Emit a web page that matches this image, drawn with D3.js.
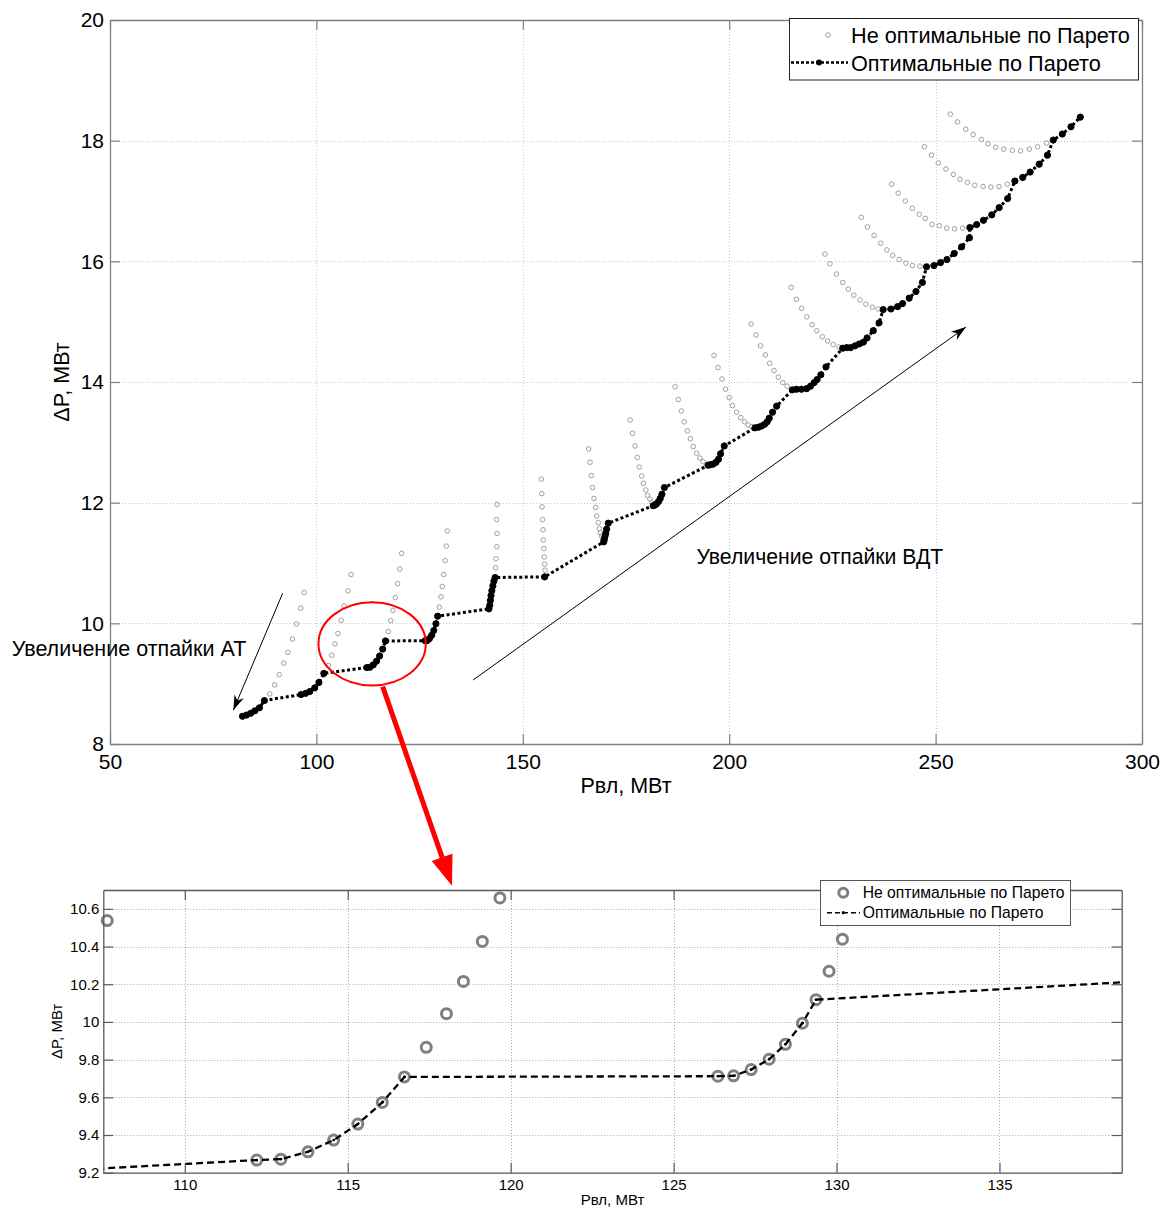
<!DOCTYPE html>
<html>
<head>
<meta charset="utf-8">
<script src="https://cdn.jsdelivr.net/npm/d3@7"></script>
<style>
    body { margin: 0; background: #fff; }
    svg { display: block; font-family: "Liberation Sans", Arial, sans-serif; }
</style>
</head>
<body>
<div id="plot"></div>
<script>
// Pareto-optimal points [Рвл, ΔP], in MW, group by group (left to right).
const pareto_points = [
    [82.1, 8.46], [83.1, 8.48], [84.1, 8.51], [85.1, 8.55], [86.2, 8.60], [87.4, 8.72],
    [96.3, 8.82], [97.4, 8.84], [98.4, 8.87], [99.6, 8.93], [100.6, 9.02], [101.8, 9.17],
    [112.21, 9.267], [112.95, 9.272], [113.78, 9.311], [114.57, 9.373], [115.31, 9.458], [116.06, 9.573], [116.74, 9.708],
    [126.36, 9.712], [126.84, 9.714], [127.38, 9.747], [127.93, 9.802], [128.43, 9.881], [128.95, 9.993], [129.37, 10.118],
    [141.8, 10.24], [142.0, 10.30], [142.15, 10.38], [142.3, 10.46], [142.5, 10.54], [142.75, 10.62], [143.0, 10.70], [143.3, 10.76],
    [155.3, 10.77],
    [169.6, 11.35], [169.75, 11.39], [169.9, 11.44], [170.1, 11.49], [170.3, 11.56], [170.7, 11.66],
    [181.6, 11.95], [182.0, 11.96], [182.4, 11.98], [182.9, 12.02], [183.3, 12.07], [183.7, 12.14], [184.3, 12.25],
    [194.9, 12.62], [195.5, 12.63], [196.15, 12.64], [196.8, 12.67], [197.4, 12.72], [197.9, 12.81], [198.8, 12.94],
    [206.25, 13.24], [207.05, 13.25], [207.85, 13.27], [208.6, 13.30], [209.2, 13.34], [209.7, 13.40], [210.5, 13.50], [211.5, 13.60],
    [215.3, 13.87], [216.3, 13.88], [217.5, 13.88], [218.75, 13.89], [219.7, 13.93], [220.6, 13.99], [221.3, 14.04], [222.2, 14.12], [223.45, 14.25],
    [227.5, 14.56], [228.45, 14.57], [229.4, 14.57], [230.5, 14.60], [231.5, 14.63], [232.5, 14.66], [233.4, 14.73], [234.9, 14.85], [236.3, 14.98],
    [237.3, 15.20], [239.2, 15.21], [240.8, 15.25], [242.0, 15.30], [243.6, 15.39], [245.25, 15.50], [246.8, 15.65],
    [247.8, 15.91], [249.6, 15.93], [251.2, 15.98], [252.75, 16.03], [254.5, 16.13], [256.3, 16.24], [258.2, 16.39],
    [258.3, 16.56], [259.95, 16.61], [261.6, 16.68], [263.6, 16.77], [265.4, 16.89], [267.45, 17.04],
    [269.2, 17.33], [271.1, 17.39], [272.9, 17.48], [275.1, 17.61], [277.1, 17.76],
    [278.5, 18.01], [280.7, 18.11], [282.8, 18.23], [285.05, 18.39]
];

// Non-optimal points [Рвл, ΔP], one row per tap group.
const other_points = [
    [88.7, 8.83], [89.9, 8.98], [91.0, 9.15], [92.1, 9.34], [93.1, 9.52], [94.2, 9.74], [95.2, 9.99], [96.2, 10.25], [97.05, 10.51],
    [102.9, 9.30], [103.7, 9.47], [104.5, 9.66], [105.2, 9.83], [106.0, 10.05], [106.7, 10.29], [107.62, 10.538], [108.4, 10.81],
    [117.41, 9.865], [118.03, 10.044], [118.55, 10.215], [119.13, 10.427], [119.67, 10.658], [120.2, 10.90], [120.64, 11.16],
    [129.77, 10.269], [130.18, 10.439], [130.5, 10.61], [130.85, 10.81], [131.2, 11.04], [131.45, 11.28], [131.7, 11.53],
    [143.4, 10.92], [143.5, 11.07], [143.7, 11.27], [143.75, 11.49], [143.65, 11.72], [143.75, 11.97],
    [155.4, 10.88], [155.3, 10.98], [155.2, 11.10], [155.1, 11.24], [154.95, 11.38], [154.9, 11.55], [154.8, 11.72], [154.65, 11.93], [154.6, 12.15], [154.5, 12.39],
    [169.3, 11.40], [169.1, 11.45], [168.8, 11.50], [168.55, 11.57], [168.3, 11.67], [167.9, 11.78], [167.65, 11.92], [167.25, 12.07], [166.9, 12.25], [166.6, 12.45], [166.3, 12.67], [165.95, 12.89],
    [181.2, 12.00], [180.8, 12.06], [180.2, 12.12], [179.8, 12.21], [179.2, 12.32], [178.8, 12.44], [178.2, 12.59], [177.75, 12.75], [177.2, 12.94], [176.6, 13.15], [176.0, 13.37],
    [194.5, 12.64], [193.7, 12.68], [192.9, 12.74], [192.1, 12.82], [191.3, 12.93], [190.6, 13.06], [189.85, 13.19], [189.1, 13.34], [188.4, 13.52], [187.65, 13.71], [186.9, 13.92],
    [205.5, 13.26], [204.6, 13.29], [203.75, 13.34], [202.8, 13.41], [201.8, 13.50], [200.8, 13.61], [200.0, 13.74], [199.1, 13.88], [198.25, 14.05], [197.3, 14.24], [196.3, 14.44],
    [214.05, 13.93], [213.0, 13.99], [211.9, 14.08], [210.85, 14.19], [209.8, 14.31], [208.75, 14.45], [207.6, 14.60], [206.5, 14.78], [205.3, 14.96],
    [226.6, 14.58], [225.2, 14.62], [223.85, 14.68], [222.55, 14.75], [221.2, 14.85], [220.1, 14.95], [218.8, 15.08], [217.55, 15.22], [216.3, 15.37], [215.0, 15.57],
    [236.1, 15.21], [234.7, 15.24], [233.1, 15.29], [231.7, 15.36], [230.2, 15.44], [228.85, 15.54], [227.5, 15.65], [226.0, 15.79], [224.4, 15.96], [223.2, 16.12],
    [246.2, 15.92], [244.4, 15.93], [242.8, 15.97], [241.2, 16.03], [239.6, 16.10], [238.2, 16.19], [236.7, 16.30], [235.1, 16.43], [233.5, 16.57], [232.0, 16.73],
    [256.55, 16.55], [254.6, 16.54], [252.7, 16.55], [250.9, 16.59], [249.1, 16.61], [247.5, 16.71], [246.05, 16.78], [244.35, 16.88], [242.65, 17.00], [240.95, 17.13], [239.35, 17.28],
    [267.35, 17.28], [265.35, 17.24], [263.4, 17.23], [261.5, 17.24], [259.5, 17.26], [257.7, 17.31], [255.9, 17.36], [254.3, 17.44], [252.5, 17.53], [250.65, 17.63], [249.0, 17.76], [247.3, 17.90],
    [276.9, 17.96], [274.7, 17.90], [272.7, 17.86], [270.6, 17.83], [268.6, 17.84], [266.5, 17.86], [264.55, 17.89], [262.7, 17.95], [261.1, 18.02], [259.1, 18.10], [257.3, 18.19], [255.3, 18.31], [253.55, 18.44]
];

// Axis ticks and limits.
const main_x_ticks = [50, 100, 150, 200, 250, 300];
const main_y_ticks = [8, 10, 12, 14, 16, 18, 20];
const zoom_x_ticks = [110, 115, 120, 125, 130, 135];
const zoom_y_ticks = [9.2, 9.4, 9.6, 9.8, 10, 10.2, 10.4, 10.6];
const zoom_x_limits = [107.5, 138.75];
const zoom_y_limits = [9.2, 10.7];

// Texts.
const x_label = "Рвл, МВт";
const y_label = "ΔP, МВт";
const legend_labels = ["Не оптимальные по Парето", "Оптимальные по Парето"];
const note_at = "Увеличение отпайки АТ";
const note_vdt = "Увеличение отпайки ВДТ";

// Annotation anchors in data units of the main plot: [from, to].
const arrow_at = [[91.84, 10.5], [79.87, 8.56]];
const arrow_vdt = [[137.94, 9.06], [257.36, 14.91]];
const note_at_pos = [26.2, 9.46];
const note_vdt_pos = [192.1, 10.98];
const zoom_ellipse = { cx: 113.5, cy: 9.66, rx: 13.0, ry: 0.69 };
// Red arrow starts in main plot units and ends in zoom plot units.
const red_arrow_from = [116.06, 8.95];
const red_arrow_to = [118.2, 10.723];


// Creating the SVG tag.
const width = 1163, height = 1209;
const svg = d3.select("div#plot").append("svg")
    .attr("width", width)
    .attr("height", height);

svg.append("rect").attr("width", width).attr("height", height).attr("fill", "#fff");

// Draws the grid and the boxed axes of one panel, returns its scales.
function make_panel(o) {
    const x = d3.scaleLinear().domain(o.x_domain).range([o.left, o.right]);
    const y = d3.scaleLinear().domain(o.y_domain).range([o.bottom, o.top]);

    const g = svg.append("g").attr("id", o.id);

    svg.append("clipPath").attr("id", o.id + "_clip")
        .append("rect")
        .attr("x", o.left).attr("y", o.top)
        .attr("width", o.right - o.left).attr("height", o.bottom - o.top);

    // Dotted grid.
    const grid = g.append("g").attr("class", "grid")
        .attr("stroke", o.grid_color)
        .attr("stroke-width", 1)
        .attr("stroke-dasharray", "1,2");

    grid.selectAll("line.gx").data(o.x_ticks).join("line")
        .attr("class", "gx")
        .attr("x1", d => Math.round(x(d)) + 0.5).attr("x2", d => Math.round(x(d)) + 0.5)
        .attr("y1", o.top).attr("y2", o.bottom);

    grid.selectAll("line.gy").data(o.y_ticks).join("line")
        .attr("class", "gy")
        .attr("y1", d => Math.round(y(d)) + 0.5).attr("y2", d => Math.round(y(d)) + 0.5)
        .attr("x1", o.left).attr("x2", o.right);

    const layers = {
        data: g.append("g").attr("class", "data"),
        axes: g.append("g").attr("class", "axes")
    };

    const style_axis = (a, labels) => {
        a.attr("font-family", null).attr("font-size", o.tick_font);
        a.select(".domain").attr("stroke", o.axis_color).attr("stroke-width", 1.3);
        a.selectAll(".tick line").attr("stroke", o.axis_color).attr("stroke-width", 1.2);
        a.selectAll(".tick text").attr("fill", "#000");
        if (!labels) a.selectAll(".tick text").remove();
    };

    layers.axes.append("g")
        .attr("transform", "translate(0," + o.bottom + ")")
        .call(d3.axisBottom(x).tickValues(o.x_ticks).tickSizeInner(-o.tick_len)
            .tickSizeOuter(0).tickPadding(o.x_pad).tickFormat(d => d))
        .call(a => style_axis(a, true));

    layers.axes.append("g")
        .attr("transform", "translate(" + o.left + ",0)")
        .call(d3.axisLeft(y).tickValues(o.y_ticks).tickSizeInner(-o.tick_len)
            .tickSizeOuter(0).tickPadding(o.y_pad).tickFormat(d => d))
        .call(a => style_axis(a, true));

    layers.axes.append("g")
        .attr("transform", "translate(0," + o.top + ")")
        .call(d3.axisTop(x).tickValues(o.x_ticks).tickSizeInner(-o.tick_len).tickSizeOuter(0))
        .call(a => style_axis(a, false));

    layers.axes.append("g")
        .attr("transform", "translate(" + o.right + ",0)")
        .call(d3.axisRight(y).tickValues(o.y_ticks).tickSizeInner(-o.tick_len).tickSizeOuter(0))
        .call(a => style_axis(a, false));

    // Axis labels.
    g.append("text")
        .attr("x", (o.left + o.right) / 2).attr("y", o.x_label_y)
        .attr("text-anchor", "middle").attr("font-size", o.label_font)
        .text(x_label);

    g.append("text")
        .attr("transform", "translate(" + o.y_label_x + "," + (o.top + o.bottom) / 2 + ") rotate(-90)")
        .attr("text-anchor", "middle").attr("font-size", o.label_font)
        .text(y_label);

    return { x, y, g, layers, clip: "url(#" + o.id + "_clip)" };
}

// Arrow head polygon with a notched back, tip at "to".
function arrow_head(from, to, len, half, notch) {
    const dx = to[0] - from[0], dy = to[1] - from[1];
    const l = Math.hypot(dx, dy), ux = dx / l, uy = dy / l;
    const bx = to[0] - ux * len, by = to[1] - uy * len;
    const nx = to[0] - ux * len * notch, ny = to[1] - uy * len * notch;
    return [to, [bx - uy * half, by + ux * half], [nx, ny], [bx + uy * half, by - ux * half]]
        .map(p => p.join(",")).join(" ");
}


/* -------------------------------------------------------------------------
 * Main plot
 * ---------------------------------------------------------------------- */

const main = make_panel({
    id: "main", left: 110, right: 1142, top: 20, bottom: 744,
    x_domain: [50, 300], y_domain: [8, 20],
    x_ticks: main_x_ticks, y_ticks: main_y_ticks,
    grid_color: "#c8c8c8", axis_color: "#808080",
    tick_len: 10, tick_font: 21, label_font: 21.5,
    x_pad: 10.5, y_pad: 6, x_label_y: 793, y_label_x: 69
});

main.layers.data.selectAll("circle.other")
    .data(other_points)
    .join("circle")
        .attr("class", "other")
        .attr("cx", d => main.x(d[0]))
        .attr("cy", d => main.y(d[1]))
        .attr("r", 2.3)
        .attr("fill", "none")
        .attr("stroke", "#a0a0a0")
        .attr("stroke-width", 1);

main.layers.data.append("path")
    .datum(pareto_points)
    .attr("d", d3.line().x(d => main.x(d[0])).y(d => main.y(d[1])))
    .attr("fill", "none")
    .attr("stroke", "#000")
    .attr("stroke-width", 3)
    .attr("stroke-dasharray", "3,2.5");

main.layers.data.selectAll("circle.pareto")
    .data(pareto_points)
    .join("circle")
        .attr("class", "pareto")
        .attr("cx", d => main.x(d[0]))
        .attr("cy", d => main.y(d[1]))
        .attr("r", 3.1)
        .attr("fill", "#000")
        .attr("stroke", "#000")
        .attr("stroke-width", 1);

// Black arrows and their notes.
[arrow_at, arrow_vdt].forEach(a => {
    const p0 = [main.x(a[0][0]), main.y(a[0][1])];
    const p1 = [main.x(a[1][0]), main.y(a[1][1])];
    main.g.append("line")
        .attr("x1", p0[0]).attr("y1", p0[1]).attr("x2", p1[0]).attr("y2", p1[1])
        .attr("stroke", "#000").attr("stroke-width", 1);
    main.g.append("polygon")
        .attr("points", arrow_head(p0, p1, 15, 5, 0.7))
        .attr("fill", "#000");
});

main.g.append("text")
    .attr("x", main.x(note_at_pos[0])).attr("y", main.y(note_at_pos[1]))
    .attr("font-size", 21.5).text(note_at);

main.g.append("text")
    .attr("x", main.x(note_vdt_pos[0])).attr("y", main.y(note_vdt_pos[1]))
    .attr("font-size", 21.2).text(note_vdt);

// Legend of the main plot.
const main_legend = main.g.append("g").attr("transform", "translate(789,18.5)");

main_legend.append("rect")
    .attr("x", 0.5).attr("width", 349).attr("height", 61.5)
    .attr("fill", "#fff").attr("stroke", "#222").attr("stroke-width", 1);

main_legend.append("circle")
    .attr("cx", 39).attr("cy", 16.5).attr("r", 2.3)
    .attr("fill", "none").attr("stroke", "#a0a0a0");

main_legend.append("line")
    .attr("x1", 2).attr("x2", 59).attr("y1", 44).attr("y2", 44)
    .attr("stroke", "#000").attr("stroke-width", 2.5).attr("stroke-dasharray", "3,2");

main_legend.append("circle")
    .attr("cx", 30).attr("cy", 44).attr("r", 3).attr("fill", "#000");

main_legend.selectAll("text")
    .data(legend_labels)
    .join("text")
        .attr("x", 62).attr("y", (d, i) => 16.5 + i * 28.5)
        .attr("dy", "0.36em").attr("font-size", 21.7)
        .text(d => d);


/* -------------------------------------------------------------------------
 * Zoomed plot
 * ---------------------------------------------------------------------- */

const zoom = make_panel({
    id: "zoom", left: 103.3, right: 1121.7, top: 890, bottom: 1172.7,
    x_domain: zoom_x_limits, y_domain: zoom_y_limits,
    x_ticks: zoom_x_ticks, y_ticks: zoom_y_ticks,
    grid_color: "#a8a8a8", axis_color: "#5a5a5a",
    tick_len: 10, tick_font: 15, label_font: 15,
    x_pad: 7, y_pad: 4, x_label_y: 1205, y_label_x: 62
});

const in_zoom = d => d[0] >= zoom_x_limits[0] && d[0] <= zoom_x_limits[1] &&
                     d[1] >= zoom_y_limits[0] && d[1] <= zoom_y_limits[1];

zoom.layers.data.selectAll("circle.ring")
    .data(other_points.concat(pareto_points).filter(in_zoom))
    .join("circle")
        .attr("class", "ring")
        .attr("cx", d => zoom.x(d[0]))
        .attr("cy", d => zoom.y(d[1]))
        .attr("r", 5)
        .attr("fill", "none")
        .attr("stroke", "#808080")
        .attr("stroke-width", 3);

zoom.layers.data.append("path")
    .datum(pareto_points)
    .attr("clip-path", zoom.clip)
    .attr("d", d3.line().x(d => zoom.x(d[0])).y(d => zoom.y(d[1])))
    .attr("fill", "none")
    .attr("stroke", "#000")
    .attr("stroke-width", 2.3)
    .attr("stroke-dasharray", "7,4");

zoom.layers.data.selectAll("circle.dot")
    .data(pareto_points.filter(in_zoom))
    .join("circle")
        .attr("class", "dot")
        .attr("cx", d => zoom.x(d[0]))
        .attr("cy", d => zoom.y(d[1]))
        .attr("r", 1.4)
        .attr("fill", "#000");

// Legend of the zoomed plot.
const zoom_legend = zoom.g.append("g").attr("transform", "translate(820,880)");

zoom_legend.append("rect")
    .attr("x", 0.5).attr("y", 0.5).attr("width", 250).attr("height", 45)
    .attr("fill", "#fff").attr("stroke", "#555").attr("stroke-width", 1);

zoom_legend.append("circle")
    .attr("cx", 23.3).attr("cy", 12.7).attr("r", 4.5)
    .attr("fill", "none").attr("stroke", "#808080").attr("stroke-width", 3);

zoom_legend.append("line")
    .attr("x1", 7).attr("x2", 40).attr("y1", 32.7).attr("y2", 32.7)
    .attr("stroke", "#000").attr("stroke-width", 1.5).attr("stroke-dasharray", "5,3");

zoom_legend.append("circle")
    .attr("cx", 23.3).attr("cy", 32.7).attr("r", 1.6).attr("fill", "#000");

zoom_legend.selectAll("text")
    .data(legend_labels)
    .join("text")
        .attr("x", 42.7).attr("y", (d, i) => 12.7 + i * 20)
        .attr("dy", "0.36em").attr("font-size", 15.7)
        .text(d => d);


/* -------------------------------------------------------------------------
 * Red ellipse and the arrow linking the two plots
 * ---------------------------------------------------------------------- */

svg.append("ellipse")
    .attr("cx", main.x(zoom_ellipse.cx)).attr("cy", main.y(zoom_ellipse.cy))
    .attr("rx", main.x(zoom_ellipse.cx + zoom_ellipse.rx) - main.x(zoom_ellipse.cx))
    .attr("ry", main.y(zoom_ellipse.cy - zoom_ellipse.ry) - main.y(zoom_ellipse.cy))
    .attr("fill", "none").attr("stroke", "#f00").attr("stroke-width", 2);

const red_p0 = [main.x(red_arrow_from[0]), main.y(red_arrow_from[1])];
const red_p1 = [zoom.x(red_arrow_to[0]), zoom.y(red_arrow_to[1])];
const red_len = Math.hypot(red_p1[0] - red_p0[0], red_p1[1] - red_p0[1]);
const red_stop = [red_p1[0] - (red_p1[0] - red_p0[0]) / red_len * 25,
                  red_p1[1] - (red_p1[1] - red_p0[1]) / red_len * 25];

svg.append("line")
    .attr("x1", red_p0[0]).attr("y1", red_p0[1])
    .attr("x2", red_stop[0]).attr("y2", red_stop[1])
    .attr("stroke", "#f00").attr("stroke-width", 5);

svg.append("polygon")
    .attr("points", arrow_head(red_p0, red_p1, 30, 11, 1))
    .attr("fill", "#f00");
</script>
</body>
</html>
